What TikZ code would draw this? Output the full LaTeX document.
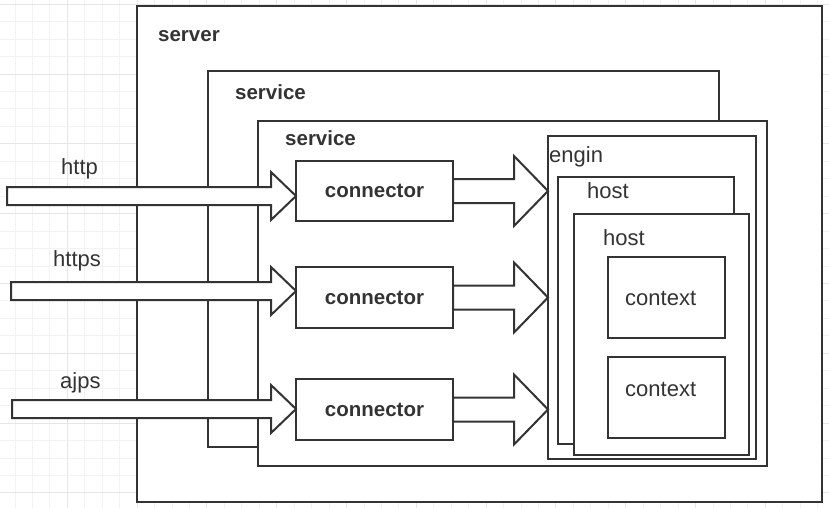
\documentclass[tikz,border=0pt]{standalone}
\usepackage{fontspec}
\setmainfont{Liberation Sans}
\usetikzlibrary{calc}

\definecolor{ink}{HTML}{333333}
\definecolor{gridminor}{HTML}{F2F2F2}
\definecolor{gridmajor}{HTML}{E6E6E6}

\tikzset{
  box/.style={draw=ink, line width=2, fill=white, rectangle, inner sep=0,
    outer sep=0, anchor=north west},
  boldtext/.style={text=ink, font=\fontsize{20.5}{24}\selectfont\bfseries},
  boldlabel/.style={boldtext, anchor=base west, inner sep=0},
  plainlabel/.style={anchor=base west, inner sep=0, text=ink,
    font=\fontsize{22}{26}\selectfont},
  arrowline/.style={draw=ink, line width=2, fill=white, line join=miter},
  gridline/.style={line width=1},
}

% box named #1 with top-left corner (#2,#3), width #4, height #5
\newcommand\plainbox[5]{\node[box, minimum width=#4, minimum height=#5] (#1) at (#2,#3) {};}

% horizontal block arrow: tail #1, tip x from #2, shaft half-width #3,
% head half-width #4, head length #5
\newcommand\blockarrow[5]{%
  \path[arrowline] let \p1=(#1), \p2=(#2) in
    (\x1,\y1+#3) -- (\x2-#5,\y1+#3) -- (\x2-#5,\y1+#4) -- (\x2,\y1)
    -- (\x2-#5,\y1-#4) -- (\x2-#5,\y1-#3) -- (\x1,\y1-#3) -- cycle;}

\begin{document}
\begin{tikzpicture}[x=1pt, y=-1pt]
  \useasboundingbox (0,0) rectangle (829,508);

  % background grid
  \begin{scope}
    \clip (0,0) rectangle (829,508);
    \foreach \k in {0,...,47} {
      \pgfmathsetmacro\gx{15+17.45*\k}
      \pgfmathtruncatemacro\m{mod(\k+1,4)}
      \ifnum\m=0
        \draw[gridline, gridmajor] (\gx,0) -- (\gx,508);
      \else
        \draw[gridline, gridminor] (\gx,0) -- (\gx,508);
      \fi
    }
    \foreach \k in {0,...,29} {
      \pgfmathsetmacro\gy{4.3+17.45*\k}
      \pgfmathtruncatemacro\m{mod(\k,4)}
      \ifnum\m=0
        \draw[gridline, gridmajor] (0,\gy) -- (829,\gy);
      \else
        \draw[gridline, gridminor] (0,\gy) -- (829,\gy);
      \fi
    }
  \end{scope}

  % nested containers
  \plainbox{server}{137}{6}{685}{496}
  \node[boldlabel] (serverlabel) at (158,42) {server};

  \plainbox{serviceA}{208}{71}{511}{376}
  \node[boldlabel] (serviceAlabel) at (235,100) {service};

  \plainbox{serviceB}{258}{121}{509}{345}
  \node[boldlabel] (serviceBlabel) at (285,146) {service};

  \plainbox{engin}{548}{136}{208}{323}
  \node[plainlabel] (enginlabel) at (549,162) {engin};

  \plainbox{hostA}{558}{177}{176}{267}
  \node[plainlabel] (hostAlabel) at (587,198) {host};

  \plainbox{hostB}{574}{214}{175}{241}
  \node[plainlabel] (hostBlabel) at (603,245) {host};

  \plainbox{ctxA}{608}{257}{117}{81}
  \node[plainlabel] (ctxAlabel) at (625,305) {context};

  \plainbox{ctxB}{608}{357}{117}{81}
  \node[plainlabel] (ctxBlabel) at (625,396) {context};

  % connectors
  \node[box, boldtext, minimum width=157, minimum height=60] (conA) at (296,161) {connector};
  \node[box, boldtext, minimum width=157, minimum height=61] (conB) at (296,267) {connector};
  \node[box, boldtext, minimum width=157, minimum height=61] (conC) at (296,379) {connector};

  % protocol inputs
  \coordinate (inA) at (7,196);
  \coordinate (inB) at (11,291);
  \coordinate (inC) at (12,409);
  \node[plainlabel] (httpl) at (61,174) {http};
  \node[plainlabel] (httpsl) at (53,266) {https};
  \node[plainlabel] (ajpsl) at (60,388) {ajps};

  \blockarrow{inA}{conA.west}{9}{24}{25}
  \blockarrow{inB}{conB.west}{9}{24}{25}
  \blockarrow{inC}{conC.west}{9}{24}{25}

  % connectors into the engine
  \blockarrow{conA.east}{engin.west}{12}{35}{34}
  \blockarrow{conB.east}{engin.west}{12}{35}{34}
  \blockarrow{conC.east}{engin.west}{12}{35}{34}
\end{tikzpicture}
\end{document}
